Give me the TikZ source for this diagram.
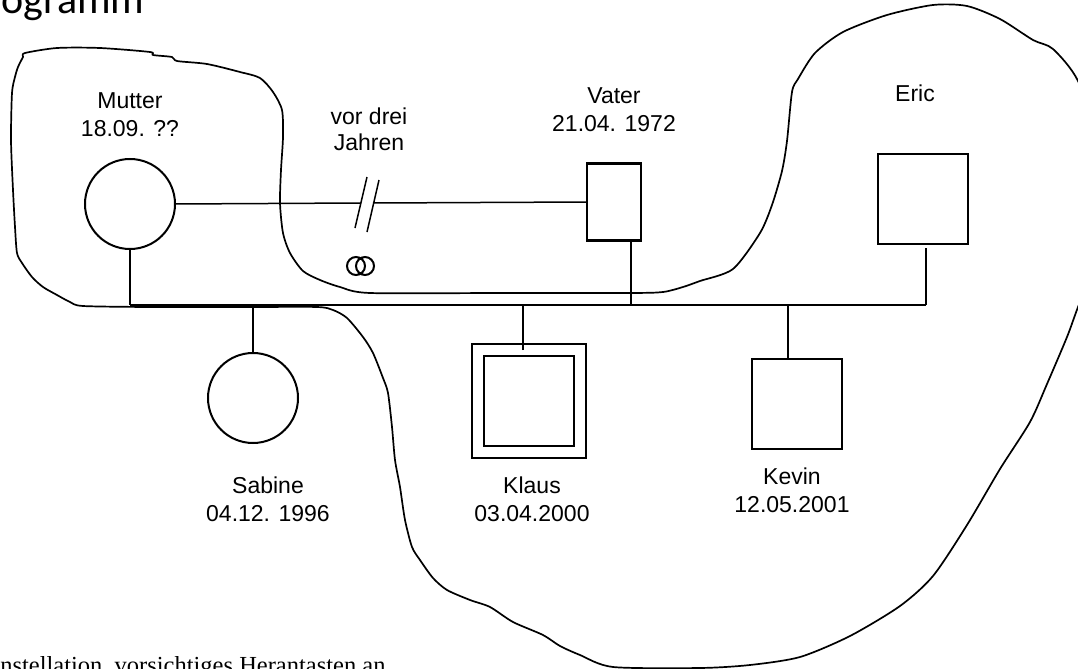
\documentclass[tikz,border=0pt]{standalone}
\usepackage{fontspec}
\setmainfont{Liberation Sans}
\newfontfamily\titlefont{Carlito}
\newfontfamily\notefont{Liberation Serif}
\usetikzlibrary{positioning}

\begin{document}
\begin{tikzpicture}[x=0.5pt,y=-0.5pt,
  person/.style={draw,inner sep=0pt,outer sep=0pt},
  male/.style={person,rectangle,line width=1.3pt,minimum size=45pt},
  female/.style={person,circle,line width=1pt,minimum size=45pt},
  link/.style={line width=.75pt},
  outline/.style={line width=.85pt,line join=round},
  lbl/.style={font=\fontsize{11.5}{14}\selectfont,align=center,inner sep=0pt,anchor=south}]
\useasboundingbox (0,0) rectangle (1078,669);
\clip (0,0) rectangle (1078,669);

\node[font=\titlefont\fontsize{21}{25}\selectfont,anchor=base west,inner sep=0pt] (title) at (1,13) {ogramm};
\node[font=\notefont\fontsize{12.25}{14}\selectfont,anchor=base west,inner sep=0pt] (note) at (0,673) {nstellation, vorsichtiges Herantasten an};

% the wrapped-around part of the system
\draw[outline] plot[smooth cycle,tension=.45] coordinates {
 (25,53) (57,48) (100,48) (150,52) (153,55) (172,57) (177,61) (207,64) (240,72) (260,78)
 (273,92) (282,110) (283,137) (281,170) (280,203) (283,233) (290,253) (303,271) (320,280)
 (340,287) (370,293) (500,293) (630,293) (663,292) (683,287) (700,281) (733,269) (760,233)
 (772,205) (782,171) (787,141) (792,92) (798,79) (815,53) (843,32) (887,15) (933,5) (967,6)
 (1000,19) (1033,40) (1053,49) (1078,81) (1100,150) (1100,250) (1078,307) (1067,337)
 (1047,384) (1030,422) (1000,469) (967,525) (933,576) (900,606) (850,636) (800,657)
 (750,665) (700,668) (613,667) (580,655) (560,646) (543,635) (513,622) (490,607) (470,600)
 (447,590) (433,578) (420,560) (412,547) (405,520) (400,487) (395,460) (392,427) (388,393)
 (383,378) (373,353) (363,337) (347,318) (333,310) (317,307) (250,307) (150,307) (83,306)
 (70,302) (57,295) (43,287) (32,277) (22,263) (17,253) (15,227) (13,190) (11,140) (12,93)
 (15,77) (18,67) (23,57)};

\node[female] (mutter) at (130,204) {};
\node[male,minimum width=27pt,minimum height=38.5pt] (vater) at (614,202) {};
\node[male] (eric) at (923,199) {};
\node[female] (sabine) at (253,398) {};
\node[male,minimum size=51pt,double,double distance=4.6pt] (klaus) at (529,401) {};
\node[male] (kevin) at (797,404) {};

\node[lbl] (mutterL) at (130,137) {Mutter\\18.09. ??};
\node[lbl,font=\fontsize{11.5}{13}\selectfont] (trennL) at (369,151) {vor drei\\Jahren};
\node[lbl] (vaterL) at (614,132) {Vater\\21.04. 1972};
\node[lbl,anchor=base] (ericL) at (915,101) {Eric};
\node[lbl] (sabineL) at (268,522) {Sabine\\04.12. 1996};
\node[lbl] (klausL) at (532,522) {Klaus\\03.04.2000};
\node[lbl] (kevinL) at (792,513) {Kevin\\12.05.2001};

\coordinate (sibL) at (130,305);
\coordinate (sibR) at (926,305);
\coordinate (d1) at (361,203);
\coordinate (d2) at (373,203);

\draw[link] (mutter.east) -- (d1);
\draw[link] (d2) -- (vater.west);
\draw[link] (367,177) -- (355,228) (379,180) -- (367,232);
\draw[line width=1pt] (356,266) circle[radius=4.5pt] (365,266) circle[radius=4.5pt];

\draw[link] (sibL) -- (sibR);
\draw[link] (mutter.south) -- (sibL);
\draw[link] ([xshift=8.5pt]vater.south) -- ([xshift=8.5pt]vater.south |- sibL);
\draw[link] ([xshift=1.5pt,yshift=-2pt]eric.south) -- ([xshift=1.5pt]eric.south |- sibR);
\draw[link] (sabine.north) -- (sabine.north |- sibL);
\draw[link] ([xshift=-3pt]klaus.north) -- ([xshift=-3pt]klaus.north |- sibL);
\draw[link] ([xshift=-4.5pt]kevin.north) -- ([xshift=-4.5pt]kevin.north |- sibL);
\end{tikzpicture}
\end{document}
